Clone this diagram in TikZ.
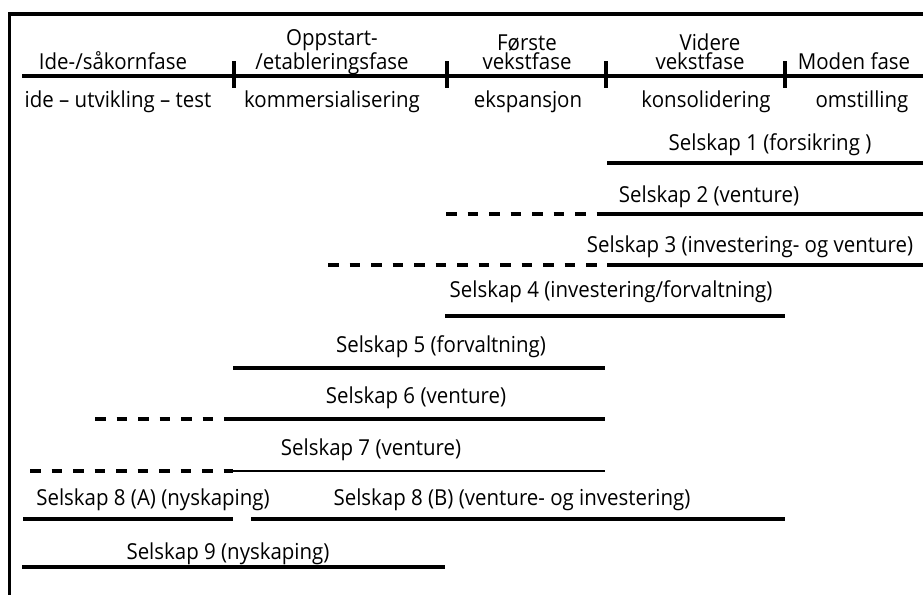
\documentclass[tikz,border=0pt]{standalone}
\usepackage{fontspec}
\setmainfont[FakeStretch=0.93]{Open Sans}
\begin{document}
\begin{tikzpicture}[x=1pt,y=-1pt,
  lbl/.style={inner sep=0pt,anchor=base,font=\fontsize{22}{17}\selectfont},
  twolbl/.style={lbl,align=center,font=\fontsize{22}{18.5}\selectfont},
  framelines/.style={line width=3.6pt,line cap=butt},
  axisline/.style={line width=3.4pt},
  phasetick/.style={line width=3.4pt},
  bar/.style={line width=3.2pt},
  thinbar/.style={line width=2.2pt},
  dbar/.style={line width=3.2pt,dash pattern=on 10.5pt off 11pt}]
\useasboundingbox (0,0) rectangle (923,595);
% frame (only top and left edges visible)
\coordinate (fTR) at (923,14);
\coordinate (fTL) at (9.5,14);
\coordinate (fBL) at (9.5,595);
\draw[framelines] (fTR) -- (fTL) -- (fBL);
% time axis
\coordinate (axL) at (22,76);
\coordinate (axR) at (923,76);
\draw[axisline] (axL) -- (axR);
\foreach \t/\xx in {t1/234,t2/447,t3/606,t4/785}{
  \coordinate (\t top) at (\xx,61);
  \coordinate (\t bot) at (\xx,88);
  \draw[phasetick] (\t top) -- (\t bot);
}
% phase headings
\node[lbl] (h1) at (113,69) {Ide-/såkornfase};
\node[twolbl] (h2) at (332,69) {Oppstart-\\/etableringsfase};
\node[twolbl] (h3) at (527,69) {Første\\vekstfase};
\node[twolbl] (h4) at (700,69) {\hspace*{20pt}Videre\\vekstfase};
\node[lbl] (h5) at (854,69) {Moden fase};
% phase activities
\node[lbl] (a1) at (118,107) {ide – utvikling – test};
\node[lbl] (a2) at (332,107) {kommersialisering};
\node[lbl] (a3) at (528,107) {ekspansjon};
\node[lbl] (a4) at (706,107) {konsolidering};
\node[lbl] (a5) at (862,107) {omstilling};
% companies
\node[lbl] (s1) at (770,150) {Selskap 1 (forsikring )};
\coordinate (s1a) at (607,163); \coordinate (s1b) at (923,163);
\draw[bar] (s1a) -- (s1b);

\node[lbl] (s2) at (709,202) {Selskap 2 (venture)};
\coordinate (s2d) at (446,214); \coordinate (s2a) at (607,214); \coordinate (s2b) at (923,214);
\draw[dbar] (s2d) -- (s2a);
\draw[bar] (s2a) -- (s2b);

\node[lbl] (s3) at (750,252) {Selskap 3 (investering- og venture)};
\coordinate (s3d) at (328,265); \coordinate (s3a) at (607,265); \coordinate (s3b) at (923,265);
\draw[dbar] (s3d) -- (s3a);
\draw[bar] (s3a) -- (s3b);

\node[lbl] (s4) at (611,297) {Selskap 4 (investering/forvaltning)};
\coordinate (s4a) at (445,316); \coordinate (s4b) at (785,316);
\draw[bar] (s4a) -- (s4b);

\node[lbl] (s5) at (441,352) {Selskap 5 (forvaltning)};
\coordinate (s5a) at (233,368); \coordinate (s5b) at (605,368);
\draw[bar] (s5a) -- (s5b);

\node[lbl] (s6) at (416,403) {Selskap 6 (venture)};
\coordinate (s6d) at (95,419); \coordinate (s6a) at (234,419); \coordinate (s6b) at (605,419);
\draw[dbar] (s6d) -- (s6a);
\draw[bar] (s6a) -- (s6b);

\node[lbl] (s7) at (371,455) {Selskap 7 (venture)};
\coordinate (s7d) at (30,471); \coordinate (s7a) at (233,471); \coordinate (s7b) at (605,471);
\draw[dbar] (s7d) -- (s7a);
\draw[thinbar] (s7a) -- (s7b);

\node[lbl] (s8A) at (153,505) {Selskap 8 (A) (nyskaping)};
\coordinate (s8Aa) at (23,519); \coordinate (s8Ab) at (233,519);
\draw[bar] (s8Aa) -- (s8Ab);

\node[lbl] (s8B) at (512,505) {Selskap 8 (B) (venture- og investering)};
\coordinate (s8Ba) at (251,519); \coordinate (s8Bb) at (785,519);
\draw[bar] (s8Ba) -- (s8Bb);

\node[lbl] (s9) at (228,559) {Selskap 9 (nyskaping)};
\coordinate (s9a) at (22,567); \coordinate (s9b) at (445,567);
\draw[bar] (s9a) -- (s9b);
\end{tikzpicture}
\end{document}
